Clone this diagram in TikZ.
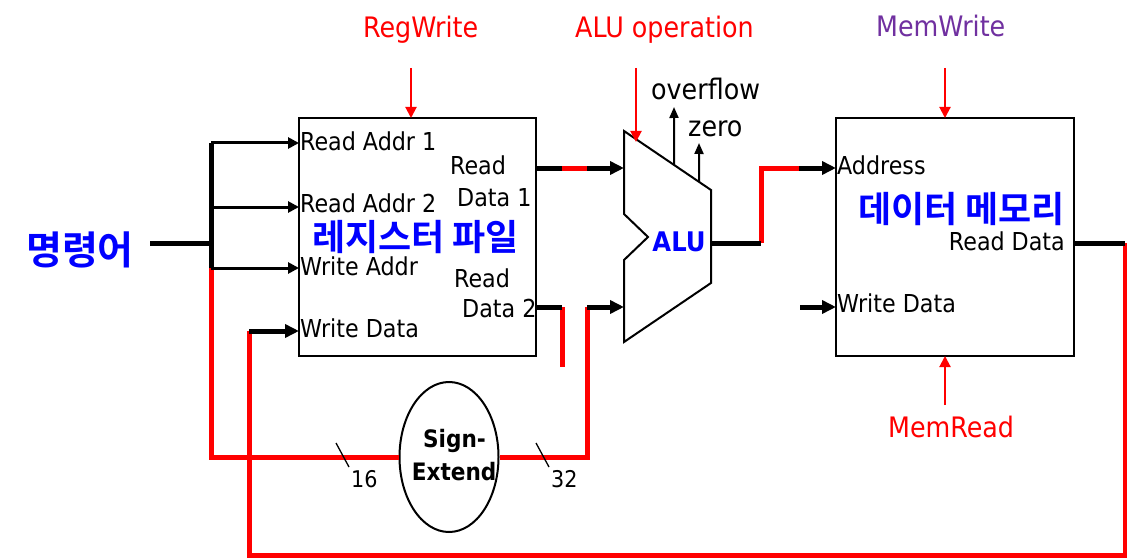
\documentclass[tikz,border=0pt]{standalone}
\usepackage{fontspec}
\setmainfont{DejaVu Sans Condensed}[BoldFont={DejaVu Sans Condensed Bold}]
\newfontfamily\krfont{Noto Sans CJK KR}[BoldFont={Noto Sans CJK KR Bold}]
\usetikzlibrary{arrows.meta,shapes.geometric,calc}
\definecolor{ctlred}{RGB}{255,0,0}
\definecolor{kblue}{RGB}{0,0,255}
\definecolor{mpurple}{RGB}{112,48,160}
\begin{document}
\begin{tikzpicture}[x=1pt,y=-1pt,
  lbl/.style={font=\fontsize{24.7}{28}\selectfont, inner sep=0, anchor=base west},
  ctl/.style={font=\fontsize{28.2}{32}\selectfont, inner sep=0, anchor=base west},
  kor/.style={font=\krfont\bfseries\fontsize{36}{40}\selectfont, text=kblue, inner sep=0, anchor=center},
  unitbox/.style={draw, line width=2.5pt, inner sep=0},
  bus/.style={line width=5pt},
  rbus/.style={line width=5pt, draw=ctlred},
  thinarr/.style={line width=3pt, -{Triangle[length=11pt,width=11pt]}},
  busarr/.style={line width=5pt, -{Triangle[length=14pt,width=13pt]}},
  ctlarr/.style={line width=2pt, draw=ctlred, -{Triangle[length=11pt,width=11pt]}, color=ctlred},
  flagarr/.style={line width=2pt, -{Triangle[length=11pt,width=9pt]}},
  tick/.style={line width=1.3pt},
]
\useasboundingbox (0,0) rectangle (1127,559);
\fill[white] (0,0) rectangle (1127,559);

% ---------- units ----------
\node[unitbox, minimum width=237pt, minimum height=238pt] (rf) at (417.5,237) {};
\node[unitbox, minimum width=238pt, minimum height=238pt] (dm) at (955,237) {};
\node[draw, ellipse, line width=2pt, minimum width=99pt, minimum height=150pt, inner sep=0] (se) at (449,457) {};

% ALU outline
\coordinate (A1) at (624,131);
\coordinate (A2) at (711,190);
\coordinate (A3) at (711,283);
\coordinate (A4) at (624,342);
\coordinate (A5) at (624,260);
\coordinate (A6) at (648,237);
\coordinate (A7) at (624,214);
\draw[line width=2pt, line join=miter] (A1) -- (A2) -- (A3) -- (A4) -- (A5) -- (A6) -- (A7) -- cycle;

% ---------- coordinates ----------
\coordinate (instr) at (150,243);
\coordinate (busT) at (211,143);
\coordinate (busJ) at (211,243);
\coordinate (busM) at (211,207);
\coordinate (busR) at (211,268);
\coordinate (busB) at (211,457);
\coordinate (rfA1) at (299,143);
\coordinate (rfA2) at (299,207);
\coordinate (rfWA) at (299,268);
\coordinate (rfWD) at (299,331);
\coordinate (wdS) at (249,331);
\coordinate (loopBL) at (249,555);
\coordinate (loopBR) at (1125,555);
\coordinate (loopTR) at (1125,243);
\coordinate (dmRD) at (1074,243);
\coordinate (rd1) at (536,168);
\coordinate (rd1a) at (562,168);
\coordinate (rd1b) at (587,168);
\coordinate (aluI1) at (624,168);
\coordinate (rd2) at (536,307);
\coordinate (rd2a) at (562,307);
\coordinate (rd2s) at (562,367);
\coordinate (seR) at (587,457);
\coordinate (rd2b) at (587,307);
\coordinate (aluI2) at (624,307);
\coordinate (aluO) at (711,243);
\coordinate (aluOm) at (761,243);
\coordinate (aluOt) at (761,168);
\coordinate (aluOr) at (799,168);
\coordinate (dmA) at (836,168);
\coordinate (mwdS) at (800,307);
\coordinate (dmWD) at (836,307);
\coordinate (rwS) at (411,68);
\coordinate (rwE) at (411,118);
\coordinate (aopS) at (636,68);
\coordinate (aopE) at (636,142);
\coordinate (ovS) at ($(A1)!0.575!(A2)$);
\coordinate (ovE) at (674,107);
\coordinate (zeS) at ($(A1)!0.862!(A2)$);
\coordinate (zeE) at (699,143);
\coordinate (mwS) at (945,68);
\coordinate (mwE) at (945,118);
\coordinate (mrS) at (945,405);
\coordinate (mrE) at (945,356);
\coordinate (t16a) at (336,443);
\coordinate (t16b) at (349,467);
\coordinate (t32a) at (536,443);
\coordinate (t32b) at (549,467);

% ---------- red wires (below) ----------
\draw[rbus, line join=miter] (busR) -- (busB) -- (se.west);
\draw[rbus, line join=miter] (wdS) -- (loopBL) -- (loopBR) -- (loopTR);
\draw[rbus] (rd1a) -- (rd1b);
\draw[rbus] (rd2a) -- (rd2s);
\draw[rbus, line join=miter] (se.east) -- (seR) -- (rd2b);
\draw[rbus, line join=miter] (aluOm) -- (aluOt) -- (aluOr);

% ---------- black wires ----------
\draw[bus] (instr) -- (busJ);
\draw[bus] (busT) -- (busR);
\draw[thinarr] (busT) -- (rfA1);
\draw[thinarr] (busM) -- (rfA2);
\draw[thinarr] (busR) -- (rfWA);
\draw[busarr] (wdS) -- (rfWD);
\draw[bus] (rd1) -- (rd1a);
\draw[busarr] (rd1b) -- (aluI1);
\draw[bus] (rd2) -- (rd2a);
\draw[busarr] (rd2b) -- (aluI2);
\draw[bus] (aluO) -- (aluOm);
\draw[busarr] (aluOr) -- (dmA);
\draw[busarr] (mwdS) -- (dmWD);
\draw[bus] (dmRD) -- (loopTR);
\draw[flagarr] (ovS) -- (ovE);
\draw[flagarr] (zeS) -- (zeE);
\draw[tick] (t16a) -- (t16b);
\draw[tick] (t32a) -- (t32b);

% ---------- control arrows ----------
\draw[ctlarr] (rwS) -- (rwE);
\draw[ctlarr] (aopS) -- (aopE);
\draw[ctlarr] (mwS) -- (mwE);
\draw[ctlarr] (mrS) -- (mrE);

% ---------- labels ----------
\node[ctl, text=ctlred] (lrw) at (363,37.3) {RegWrite};
\node[ctl, text=ctlred] (laop) at (575,37.3) {ALU operation};
\node[ctl, text=mpurple] (lmw) at (876,36.7) {MemWrite};
\node[ctl, text=ctlred] (lmr) at (888,437.3) {MemRead};
\node[ctl] (lov) at (651,99.3) {overflow};
\node[ctl] (lze) at (688,136.7) {zero};

\node[lbl] (tra1) at (300,150.7) {Read Addr 1};
\node[lbl] (tra2) at (300,212.7) {Read Addr 2};
\node[lbl] (twa) at (300,275.7) {Write Addr};
\node[lbl] (twd) at (300,337.3) {Write Data};
\node[lbl] (tr1) at (450,175) {Read};
\node[lbl] (td1) at (457,206) {Data 1};
\node[lbl] (tr2) at (454,287.3) {Read};
\node[lbl] (td2) at (462,317.3) {Data 2};
\node[lbl] (tad) at (837,175) {Address};
\node[lbl, anchor=base east] (trd) at (1065,250) {Read Data};
\node[lbl] (tmwd) at (837,312) {Write Data};

\node[kor] (krf) at (415.5,237) {레지스터 파일};
\node[kor] (kdm) at (961.5,209) {데이터 메모리};
\node[kor, font=\krfont\bfseries\fontsize{39}{43}\selectfont] (kin) at (80,249.5) {명령어};
\node[inner sep=0, text=kblue, font=\bfseries\fontsize{27}{30}\selectfont] (talu) at (679,241.5) {ALU};

\node[inner sep=0, anchor=base, font=\bfseries\fontsize{24}{28}\selectfont] (tsg) at (454.5,447.3) {Sign-};
\node[inner sep=0, anchor=base, font=\bfseries\fontsize{24}{28}\selectfont] (tex) at (454.2,480) {Extend};
\node[lbl, font=\fontsize{23}{27}\selectfont] (t16) at (351,487.3) {16};
\node[lbl, font=\fontsize{23}{27}\selectfont] (t32) at (551,487.3) {32};
\end{tikzpicture}
\end{document}
